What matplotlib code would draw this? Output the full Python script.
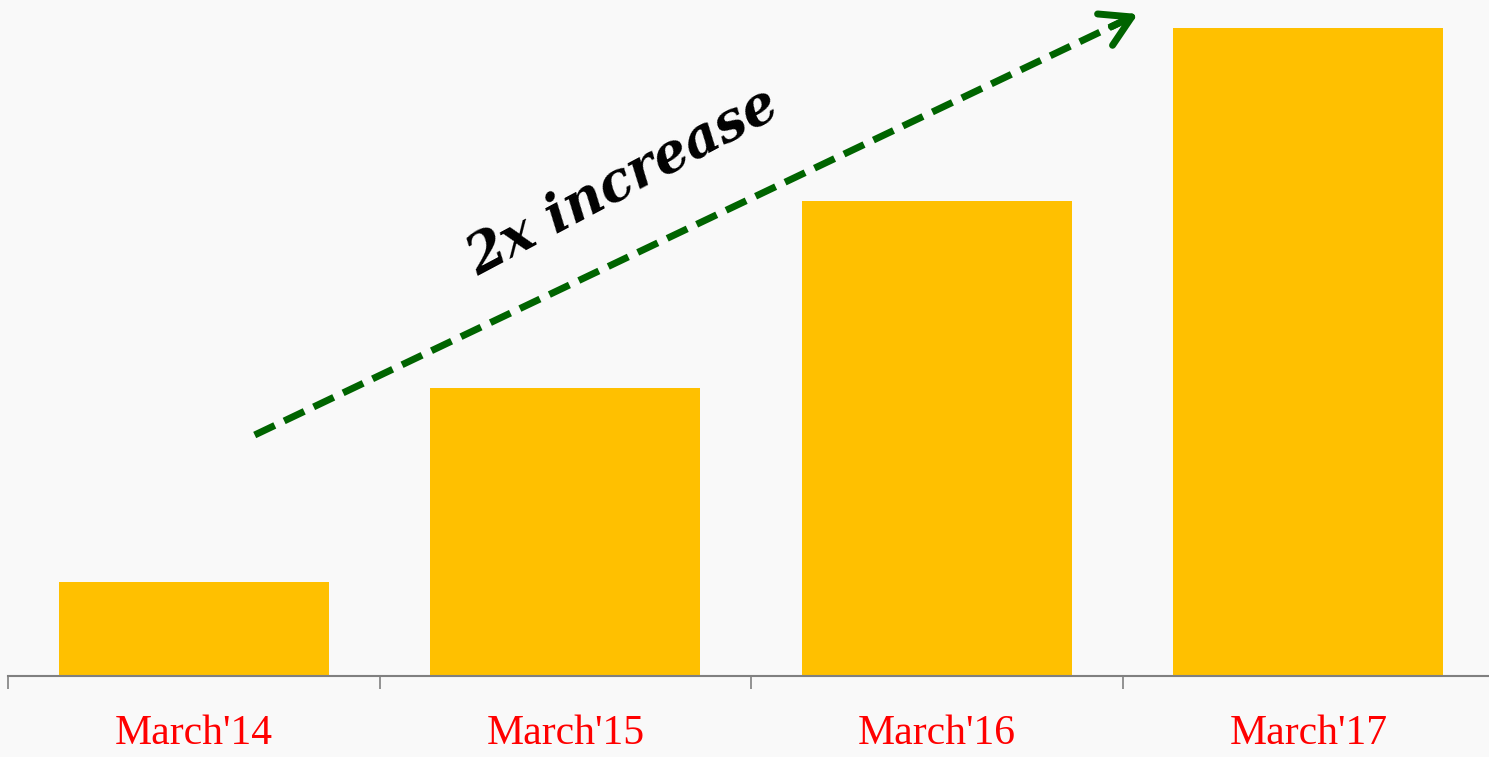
import matplotlib
matplotlib.use("Agg")
import matplotlib.pyplot as plt
import numpy as np

# 데이터
categories = ["March'14", "March'15", "March'16", "March'17"]
values = [94, 288, 475, 648]
note_text = "2x increase"

W, H = 1489, 757
fig = plt.figure(figsize=(W / 100, H / 100), dpi=100)
fig.patch.set_facecolor("#f9f9f9")

# 축 위치 (기준선 y=676px, 왼쪽 끝 x=8px)
ax = fig.add_axes([8 / W, 81 / H, 1 - 8 / W, 676 / H])
ax.set_facecolor("none")

x = np.arange(len(categories))
ax.bar(x, values, width=0.727, color="#FFC000", zorder=2)

ax.set_xlim(-0.5, 3.486)
ax.set_ylim(0, 676)

# 축 스타일
for side in ["top", "right", "left"]:
    ax.spines[side].set_visible(False)
ax.spines["bottom"].set_color("#808080")
ax.spines["bottom"].set_linewidth(1.5)
ax.set_yticks([])

ax.set_xticks(np.arange(-0.5, 3.5, 1.0))
ax.set_xticklabels([])
ax.tick_params(axis="x", which="major", direction="out", length=9,
               width=1.2, color="#808080")
ax.set_xticks(x, minor=True)
ax.set_xticklabels(categories, minor=True, color="red",
                   fontsize=30, fontfamily="Liberation Serif")
ax.tick_params(axis="x", which="minor", length=0, pad=28)

# 점선 화살표: 점선 몸통 + 실선 머리
start = np.array([0.164, 241])
end = np.array([2.541, 662])
ax.plot([start[0], end[0] - 0.01], [start[1], end[1] - 1.8],
        color="#006400", lw=5, linestyle=(0, (3.2, 1.5)),
        solid_capstyle="butt", dash_capstyle="butt", zorder=3)
back = end - 0.03 * (end - start)
ax.annotate("", xy=tuple(end), xytext=tuple(back),
            arrowprops=dict(arrowstyle="->,head_length=0.85,head_width=0.5",
                            mutation_scale=25, color="#006400", lw=5,
                            capstyle="round", joinstyle="round",
                            shrinkA=0, shrinkB=0),
            zorder=3)

ax.text(1.155, 494, note_text, rotation=28, ha="center", va="center",
        fontsize=39, fontweight="bold", fontstyle="italic",
        fontfamily="DejaVu Serif", color="black", zorder=4)

fig.savefig("out.png", dpi=100, facecolor=fig.get_facecolor())
